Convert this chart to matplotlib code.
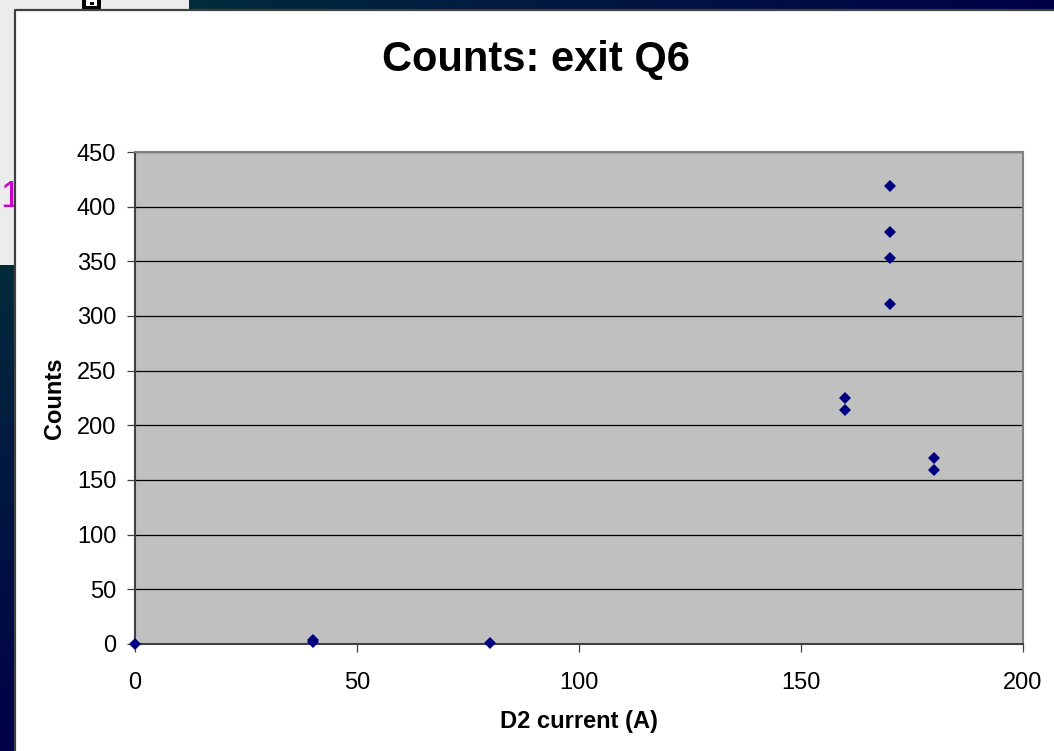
import numpy as np
import matplotlib.pyplot as plt
from matplotlib.patches import Rectangle

# ---------------- data ---------------- #
current = [0, 40, 40, 80, 160, 160, 170, 170, 170, 170, 180, 180]
counts = [0, 2, 4, 1, 225, 214, 419, 377, 353, 311, 170, 159]
xTicks = [0, 50, 100, 150, 200]
yTicks = [0, 50, 100, 150, 200, 250, 300, 350, 400, 450]

plt.rcParams['font.family'] = ['Liberation Sans', 'DejaVu Sans']

W, H = 1054, 751
fig = plt.figure(figsize=(W / 100, H / 100), dpi=100)

# ------------- slide background (pixel coords) ------------- #
bg = fig.add_axes([0, 0, 1, 1], zorder=-10)
bg.set_xlim(0, W)
bg.set_ylim(H, 0)
bg.axis('off')

c0 = np.array([0x02, 0x2b, 0x3b]) / 255
c1 = np.array([0x00, 0x00, 0x48]) / 255
t = np.linspace(0, 1, 256)
gradH = (c0[None, :] * (1 - t[:, None]) + c1[None, :] * t[:, None])[None, :, :]
gradV = (c0[None, :] * (1 - t[:, None]) + c1[None, :] * t[:, None])[:, None, :]
bg.imshow(gradH, extent=(189, W, 10, 0), aspect='auto', interpolation='bilinear')
bg.imshow(gradV, extent=(0, 15, H, 265), aspect='auto', interpolation='bilinear')
bg.add_patch(Rectangle((0, 0), 189, 10, color='#ececec', lw=0, zorder=1))
bg.add_patch(Rectangle((0, 0), 15, 265, color='#ececec', lw=0, zorder=1))
bg.add_patch(Rectangle((82, 0), 19, 10, color='black', lw=0, zorder=1.1))
bg.add_patch(Rectangle((86, 0), 11, 6, color='white', lw=0, zorder=1.2))
bg.add_patch(Rectangle((90, 2), 4, 3, color='black', lw=0, zorder=1.3))
# stray slide text, partly hidden behind the chart frame
bg.text(0, 207, '1', color='#cc00cc', fontsize=26, ha='left', va='baseline', zorder=1.5)
bg.add_patch(Rectangle((15, 10), W - 15, H - 10, facecolor='white', lw=0, zorder=2))
bg.plot([14.5, 14.5, W], [H, 9.5, 9.5], color='#404040', lw=1.6, zorder=3)
bg.set_xlim(0, W)
bg.set_ylim(H, 0)

# ---------------- chart ---------------- #
left, right, top, bottom = 135, 1023, 152, 644
ax = fig.add_axes([left / W, (H - bottom) / H, (right - left) / W, (bottom - top) / H])
ax.set_facecolor('#c0c0c0')
ax.set_xlim(0, 200)
ax.set_ylim(0, 450)
ax.set_xticks(xTicks)
ax.set_yticks(yTicks)
ax.yaxis.grid(True, color='black', lw=0.9)
ax.set_axisbelow(True)

ax.plot(current, counts, 'D', color='#000080', ms=6.3, mew=0, clip_on=False, zorder=5)

ax.tick_params(axis='both', direction='out', length=5.5, width=0.9, color='#404040',
               labelsize=17, pad=8)
ax.tick_params(axis='x', pad=15)
ax.spines['left'].set_color('#404040')
ax.spines['bottom'].set_color('#404040')
ax.spines['top'].set_color('#808080')
ax.spines['right'].set_color('#808080')
for s in ax.spines.values():
    s.set_linewidth(1.5)

ax.set_xlabel('D2 current (A)', fontsize=17, fontweight='bold', labelpad=11)
ax.set_ylabel('Counts', fontsize=17, fontweight='bold', labelpad=8)
fig.text(536 / W, 1 - 60 / H, 'Counts: exit Q6', fontsize=30, fontweight='bold',
         ha='center', va='center')

plt.savefig('out.png', dpi=100)
